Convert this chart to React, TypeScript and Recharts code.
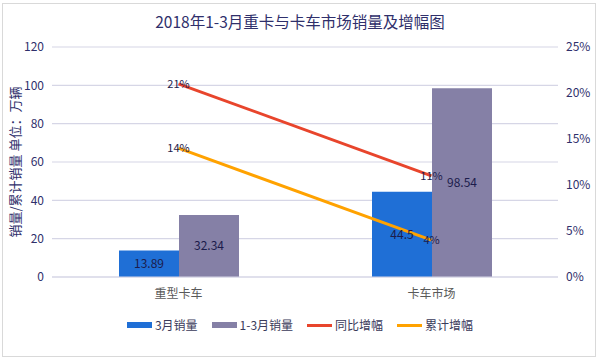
import {
  Bar,
  CartesianGrid,
  ComposedChart,
  LabelList,
  Legend,
  Line,
  XAxis,
  YAxis,
} from "recharts";

const categories = ["重型卡车", "卡车市场"];
const marchSales = [13.89, 44.5];
const q1Sales = [32.34, 98.54];
const yoyGrowth = [21, 11];
const cumGrowth = [14, 4];

const leftTicks = [0, 20, 40, 60, 80, 100, 120];
const rightTicks = [0, 5, 10, 15, 20, 25];

const SERIES = [
  { key: "march", label: "3月销量", color: "#1f6fd6", kind: "bar" },
  { key: "q1", label: "1-3月销量", color: "#8580a6", kind: "bar" },
  { key: "yoy", label: "同比增幅", color: "#e8452c", kind: "line" },
  { key: "cum", label: "累计增幅", color: "#ffa200", kind: "line" },
];

const data = categories.map((name, i) => ({
  name,
  march: marchSales[i],
  q1: q1Sales[i],
  yoy: yoyGrowth[i],
  cum: cumGrowth[i],
}));

const FONT = "'Noto Sans CJK SC', 'Noto Sans', sans-serif";
const NAVY = "#2f2f6b";
const LABEL = "#1c1c4c";
const GRID = "#d6d6e6";

function LegendRow() {
  return (
    <div
      style={{
        height: 28,
        paddingTop: 8,
        boxSizing: "border-box",
        display: "flex",
        justifyContent: "center",
        gap: 14,
        fontFamily: FONT,
        fontSize: 12,
        color: "#3a3a5a",
        lineHeight: "20px",
      }}
    >
      {SERIES.map((s) => (
        <span key={s.key} style={{ display: "flex", alignItems: "center", gap: 3 }}>
          <span
            style={{
              display: "inline-block",
              width: 25,
              height: s.kind === "bar" ? 6 : 3,
              background: s.color,
            }}
          />
          {s.label}
        </span>
      ))}
    </div>
  );
}

export default function App() {
  return (
    <div
      style={{
        position: "fixed",
        left: 0,
        top: 0,
        width: 600,
        height: 361,
        background: "#fff",
        fontFamily: FONT,
      }}
    >
      <div
        style={{
          position: "absolute",
          left: 2,
          top: 3,
          width: 594,
          height: 354,
          border: "1px solid #d9d9d9",
          boxSizing: "border-box",
        }}
      />
      <div
        style={{
          position: "absolute",
          left: 0,
          top: 11,
          width: 600,
          textAlign: "center",
          fontSize: 15.5,
          color: NAVY,
          lineHeight: "20px",
        }}
      >
        2018年1-3月重卡与卡车市场销量及增幅图
      </div>
      <ComposedChart
        width={600}
        height={361}
        data={data}
        margin={{ top: 47, right: 0, bottom: 26, left: 0 }}
        barGap={0}
        barSize={60}
        style={{ position: "absolute", left: 0, top: 0 }}
      >
        <CartesianGrid yAxisId="left" vertical={false} stroke={GRID} strokeWidth={1.2} />
        <XAxis
          dataKey="name"
          height={30}
          tickLine={false}
          axisLine={{ stroke: GRID }}
          tick={{ fontSize: 12, fill: "#595959", fontFamily: FONT }}
          tickMargin={6}
        />
        <YAxis
          yAxisId="left"
          width={52}
          domain={[0, 120]}
          ticks={leftTicks}
          axisLine={false}
          tickLine={false}
          tick={{ fontSize: 12, fill: NAVY, fontFamily: FONT }}
          label={{
            value: "销量/累计销量 单位：万辆",
            angle: -90,
            position: "insideLeft",
            offset: 15,
            style: { textAnchor: "middle", fontSize: 13, fill: NAVY, fontFamily: FONT },
          }}
        />
        <YAxis
          yAxisId="right"
          orientation="right"
          width={42}
          domain={[0, 25]}
          ticks={rightTicks}
          axisLine={false}
          tickLine={false}
          tick={{ fontSize: 12, fill: NAVY, fontFamily: FONT }}
          tickFormatter={(v: number) => `${v}%`}
        />
        <Legend verticalAlign="bottom" content={() => <LegendRow />} />
        <Bar yAxisId="left" dataKey="march" name="3月销量" fill="#1f6fd6" isAnimationActive={false}>
          <LabelList dataKey="march" position="center" fill={LABEL} fontSize={12} fontFamily={FONT} />
        </Bar>
        <Bar yAxisId="left" dataKey="q1" name="1-3月销量" fill="#8580a6" isAnimationActive={false}>
          <LabelList dataKey="q1" position="center" fill={LABEL} fontSize={12} fontFamily={FONT} />
        </Bar>
        <Line
          yAxisId="right"
          type="linear"
          dataKey="yoy"
          name="同比增幅"
          stroke="#e8452c"
          strokeWidth={3}
          dot={false}
          isAnimationActive={false}
        >
          <LabelList
            dataKey="yoy"
            position="center"
            fill={LABEL}
            fontSize={11}
            fontFamily={FONT}
            formatter={(v: number) => `${v}%`}
          />
        </Line>
        <Line
          yAxisId="right"
          type="linear"
          dataKey="cum"
          name="累计增幅"
          stroke="#ffa200"
          strokeWidth={3}
          dot={false}
          isAnimationActive={false}
        >
          <LabelList
            dataKey="cum"
            position="center"
            fill={LABEL}
            fontSize={11}
            fontFamily={FONT}
            formatter={(v: number) => `${v}%`}
          />
        </Line>
      </ComposedChart>
    </div>
  );
}
